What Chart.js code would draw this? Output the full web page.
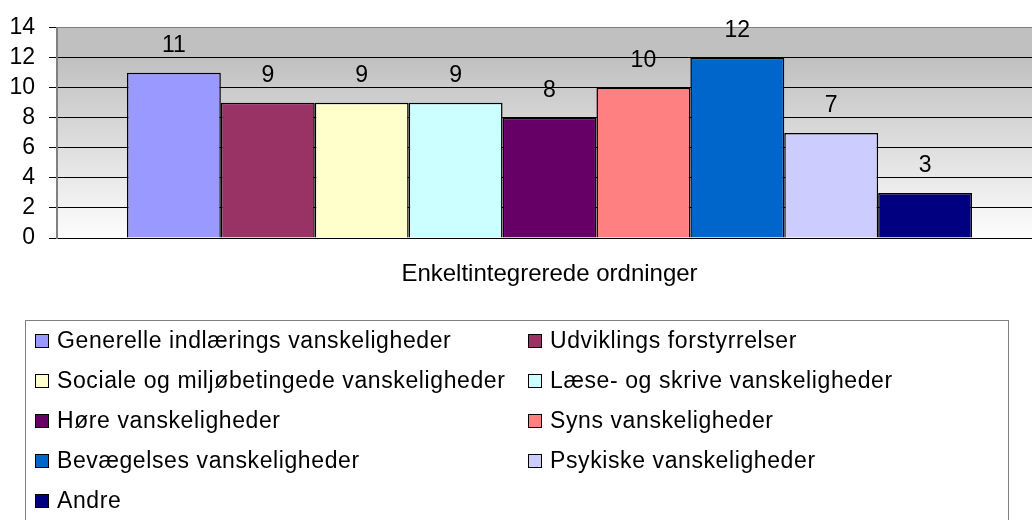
<!DOCTYPE html>
<html>
<head>
<meta charset="utf-8">
<script src="https://cdn.jsdelivr.net/npm/chart.js@4/dist/chart.umd.min.js"></script>
<style>
  body { margin: 0; background: #fff; overflow: hidden; }
  #wrap { width: 1032px; height: 520px; overflow: hidden; }
</style>
</head>
<body>
<div id="wrap"><canvas id="chartOrdninger" width="1042" height="520"></canvas></div>
<script>
const categories = ["Enkeltintegrerede ordninger"];

const seriesNames = [
  "Generelle indlærings vanskeligheder",
  "Udviklings forstyrrelser",
  "Sociale og miljøbetingede vanskeligheder",
  "Læse- og skrive vanskeligheder",
  "Høre vanskeligheder",
  "Syns vanskeligheder",
  "Bevægelses vanskeligheder",
  "Psykiske vanskeligheder",
  "Andre",
];

const seriesValues = [11, 9, 9, 9, 8, 10, 12, 7, 3];

const yTicks = [0, 2, 4, 6, 8, 10, 12, 14];

const excelPalette = [
  "#9999ff",
  "#993366",
  "#ffffcc",
  "#ccffff",
  "#660066",
  "#ff8080",
  "#0066cc",
  "#ccccff",
  "#000080",
];

const FONT = "'Liberation Sans', Arial, sans-serif";
Chart.defaults.font.family = FONT;
Chart.defaults.color = "#000";

// gradient in plot area, like the old excel charts
const plotBackground = {
  id: "plotBackground",
  beforeDraw(chart) {
    const { ctx, chartArea } = chart;
    const g = ctx.createLinearGradient(0, chartArea.top, 0, chartArea.bottom);
    g.addColorStop(0, "#c0c0c0");
    g.addColorStop(0.14, "#c0c0c0");
    g.addColorStop(1, "#fdfdfd");
    ctx.save();
    ctx.fillStyle = g;
    ctx.fillRect(chartArea.left, chartArea.top, chartArea.right - chartArea.left, chartArea.bottom - chartArea.top);
    ctx.restore();
  },
};

const valueLabels = {
  id: "valueLabels",
  afterDatasetsDraw(chart) {
    const ctx = chart.ctx;
    ctx.save();
    ctx.font = "23px " + FONT;
    ctx.fillStyle = "#000";
    ctx.textAlign = "center";
    ctx.textBaseline = "middle";
    chart.data.datasets.forEach((ds, i) => {
      const bar = chart.getDatasetMeta(i).data[0];
      ctx.fillText(String(ds.data[0]), bar.x, bar.y - 27);
    });
    ctx.restore();
  },
};

const boxLegend = {
  id: "boxLegend",
  afterDraw(chart) {
    const ctx = chart.ctx;
    ctx.save();
    ctx.strokeStyle = "#808080";
    ctx.lineWidth = 1;
    ctx.strokeRect(25.5, 320.5, 983, 220);
    ctx.font = "23px " + FONT;
    ctx.letterSpacing = "0.6px";
    ctx.textBaseline = "middle";
    ctx.textAlign = "left";
    const cols = [35, 528];
    chart.data.datasets.forEach((ds, i) => {
      const x = cols[i % 2];
      const y = 341 + Math.floor(i / 2) * 40;
      ctx.fillStyle = ds.backgroundColor;
      ctx.fillRect(x, y - 7, 14, 14);
      ctx.strokeStyle = "#000";
      ctx.strokeRect(x + 0.5, y - 6.5, 13, 13);
      ctx.fillStyle = "#000";
      ctx.fillText(ds.label, x + 22, y + 1);
    });
    ctx.restore();
  },
};

new Chart(document.getElementById("chartOrdninger"), {
  type: "bar",
  data: {
    labels: categories,
    datasets: seriesNames.map((name, i) => ({
      label: name,
      data: [seriesValues[i]],
      backgroundColor: excelPalette[i],
      borderColor: "#000",
      borderWidth: 1.5,
      barPercentage: 1,
      categoryPercentage: 0.858,
    })),
  },
  options: {
    responsive: false,
    animation: false,
    layout: { autoPadding: false, padding: { top: 20, left: 0, right: 0, bottom: 222 } },
    plugins: {
      legend: { display: false },
      tooltip: { enabled: false },
    },
    scales: {
      x: {
        grid: { display: false, drawTicks: false },
        border: { display: false },
        ticks: { font: { size: 24 }, padding: 22, color: "#000" },
        afterFit: (scale) => { scale.height = 60; },
      },
      y: {
        min: 0,
        max: 14,
        afterBuildTicks: (scale) => { scale.ticks = yTicks.map((v) => ({ value: v })); },
        grid: {
          color: (c) => (c.tick && c.tick.value === 14 ? "#808080" : "#000"),
          tickColor: "#000",
          tickLength: 8,
          lineWidth: 1,
        },
        border: { color: "#808080", width: 2 },
        ticks: { font: { size: 23 }, padding: 14, color: "#000", autoSkip: false },
        afterFit: (scale) => { scale.width = 57; },
      },
    },
  },
  plugins: [plotBackground, valueLabels, boxLegend],
});
</script>
</body>
</html>
